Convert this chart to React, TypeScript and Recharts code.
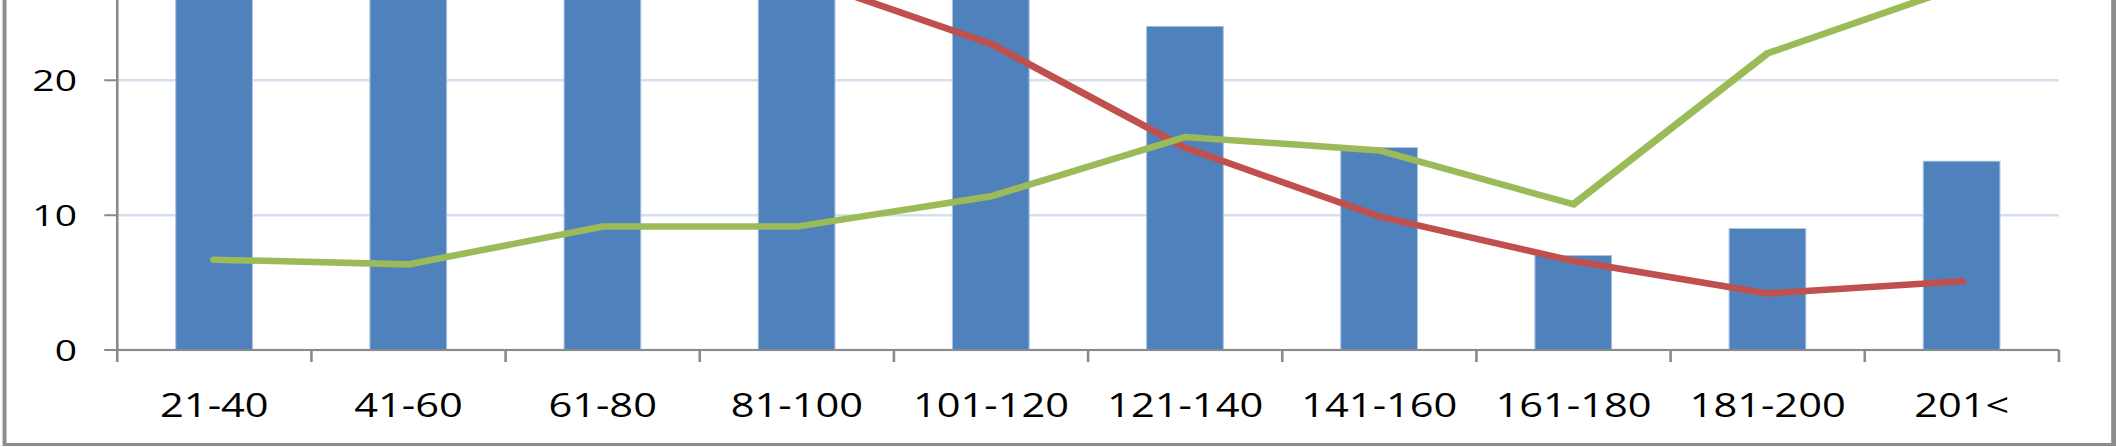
import { ComposedChart, Bar, Line, XAxis, YAxis, CartesianGrid } from 'recharts';

// weight ranges on the category axis
const ranges = ['21-40', '41-60', '61-80', '81-100', '101-120', '121-140', '141-160', '161-180', '181-200', '201<'];
// blue bars (first three run off the top of the picture, guessed)
const barValues = [34, 36, 31, 26, 26, 24, 15, 7, 9, 14];
// red line
const redValues = [36, 33, 30, 27.7, 22.7, 15.0, 9.9, 6.6, 4.2, 5.1];
// green line
const greenValues = [6.7, 6.35, 9.15, 9.15, 11.4, 15.8, 14.8, 10.8, 22.0, 27.0];
const yTicks = [0, 10, 20];

const data = ranges.map((range, i) => ({
  range,
  bars: barValues[i],
  red: redValues[i],
  green: greenValues[i],
}));

// the source picture is stretched sideways, so draw narrow and scale it out
const STRETCH = 1.3;
const BOX_W = 1625.7;
const BOX_H = 686;
const CHART_W = BOX_W - 7;
const CHART_H = BOX_H - 6;
const MARGIN = { top: 47.6, right: 39.9, bottom: 33, left: 25.2 };
const Y_AXIS_W = 60;
const PLOT_W = CHART_W - MARGIN.left - MARGIN.right - Y_AXIS_W;
const BAND = PLOT_W / ranges.length;

const AXIS_GRAY = '#8a8a8a';

function CategoryTick(props: any) {
  const { x, y, payload, index } = props;
  const left = x - BAND / 2;
  const right = x + BAND / 2;
  return (
    <g>
      <line x1={left} x2={left} y1={y} y2={y + 12} stroke={AXIS_GRAY} strokeWidth={2} />
      {index === ranges.length - 1 && (
        <line x1={right} x2={right} y1={y} y2={y + 12} stroke={AXIS_GRAY} strokeWidth={2} />
      )}
      <text x={x} y={y + 66.7} textAnchor="middle" fontSize={32} fill="#000">
        {payload.value}
      </text>
    </g>
  );
}

export default function App() {
  return (
    <div
      style={{
        position: 'absolute',
        left: 0,
        top: 0,
        width: 2116,
        height: 447,
        overflow: 'hidden',
        background: '#fff',
      }}
    >
      <div
        style={{
          transform: `scaleX(${STRETCH})`,
          transformOrigin: '0 0',
          width: 2116 / STRETCH,
          height: 447,
          fontFamily: '"Open Sans", sans-serif',
        }}
      >
        <div
          style={{
            position: 'absolute',
            left: 2,
            top: -240,
            width: BOX_W,
            height: BOX_H,
            boxSizing: 'border-box',
            borderStyle: 'solid',
            borderColor: '#8c8c8c',
            borderWidth: '3px 4px 3px 3px',
            background: '#fff',
          }}
        >
          <ComposedChart width={CHART_W} height={CHART_H} data={data} margin={MARGIN}>
            <CartesianGrid vertical={false} stroke="#d5dff0" strokeWidth={2.5} />
            <XAxis
              dataKey="range"
              interval={0}
              height={60}
              tickSize={0}
              tickMargin={0}
              tickLine={false}
              axisLine={{ stroke: AXIS_GRAY, strokeWidth: 2 }}
              tick={<CategoryTick />}
            />
            <YAxis
              width={Y_AXIS_W}
              domain={[0, 40]}
              ticks={yTicks}
              interval={0}
              tickSize={10}
              tickMargin={21}
              axisLine={{ stroke: AXIS_GRAY, strokeWidth: 2 }}
              tickLine={{ stroke: AXIS_GRAY, strokeWidth: 2 }}
              tick={{ fontSize: 30, fill: '#000' }}
            />
            <Bar
              dataKey="bars"
              fill="#4f81bd"
              stroke="#a9c1e2"
              strokeWidth={0.8}
              barSize={59}
              isAnimationActive={false}
            />
            <Line
              type="linear"
              dataKey="red"
              stroke="#c0504d"
              strokeWidth={6.5}
              strokeLinecap="round"
              dot={false}
              activeDot={false}
              isAnimationActive={false}
            />
            <Line
              type="linear"
              dataKey="green"
              stroke="#9bbb59"
              strokeWidth={6.5}
              strokeLinecap="round"
              dot={false}
              activeDot={false}
              isAnimationActive={false}
            />
          </ComposedChart>
        </div>
      </div>
    </div>
  );
}
